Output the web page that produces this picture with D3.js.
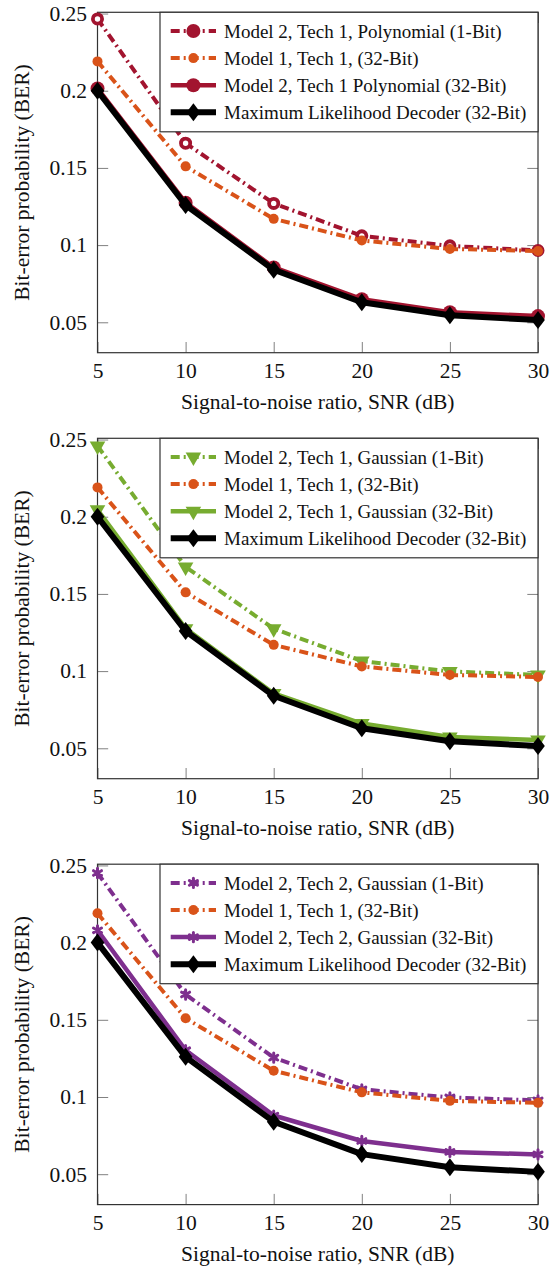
<!DOCTYPE html>
<html>
<head>
<meta charset="utf-8">
<script src="https://cdn.jsdelivr.net/npm/d3@7"></script>
<style>
  body { margin: 0; background: #fff; }
  svg { display: block; }
  svg text { font-family: "Liberation Serif", "Times New Roman", serif; }
</style>
</head>
<body>
<div id="chart"></div>
<script>
// ---- data ----
const snr = [5, 10, 15, 20, 25, 30];
const xTickLabels = ["5", "10", "15", "20", "25", "30"];
const yTickValues = [0.05, 0.1, 0.15, 0.2, 0.25];
const yTickLabels = ["0.05", "0.1", "0.15", "0.2", "0.25"];

const berML = [0.2, 0.126, 0.084, 0.063, 0.0545, 0.0515];
const berModel1 = [0.219, 0.151, 0.117, 0.103, 0.0975, 0.0962];
const berPoly1Bit = [0.2465, 0.166, 0.127, 0.106, 0.0995, 0.0965];
const berPoly32Bit = [0.2015, 0.1275, 0.0855, 0.065, 0.0565, 0.054];
const berGauss1Bit = [0.2458, 0.1675, 0.1275, 0.1065, 0.0998, 0.0975];
const berGauss32Bit = [0.2045, 0.1275, 0.0855, 0.066, 0.0573, 0.0553];
const berTech2Gauss1Bit = [0.2451, 0.1664, 0.1255, 0.105, 0.0997, 0.0978];
const berTech2Gauss32Bit = [0.208, 0.1303, 0.088, 0.0715, 0.0644, 0.0628];

const labelML = "Maximum Likelihood Decoder (32-Bit)";
const labelModel1 = "Model 1, Tech 1, (32-Bit)";
const labelsPanel1 = ["Model 2, Tech 1, Polynomial (1-Bit)", "Model 2, Tech 1 Polynomial (32-Bit)"];
const labelsPanel2 = ["Model 2, Tech 1, Gaussian (1-Bit)", "Model 2, Tech 1, Gaussian (32-Bit)"];
const labelsPanel3 = ["Model 2, Tech 2, Gaussian (1-Bit)", "Model 2, Tech 2, Gaussian (32-Bit)"];

const xTitle = "Signal-to-noise ratio, SNR (dB)";
const yTitle = "Bit-error probability (BER)";

// ---- styling / layout ----
const WIDTH = 551, HEIGHT = 1270;
const PLOT = { left: 97.5, right: 538, height: 340.4 };
const PANEL_TOP = [12.3, 438.3, 864.2];
const Y_DOMAIN = [0.0303, 0.2508];
const FONT = "'Liberation Serif', 'Times New Roman', serif";
const AXIS_FONT_SIZE = 21.5;
const LEGEND_FONT_SIZE = 19;
const TICK = 10.7;
const DASHDOT = "9,4,2,4";

const CRIMSON = "#a2142f";
const ORANGE = "#d95319";
const GREEN = "#77ac30";
const PURPLE = "#7e2f8e";

const shapes = {
  diamond: { draw(c, r) { const w = r * 0.76; c.moveTo(0, -r); c.lineTo(w, 0); c.lineTo(0, r); c.lineTo(-w, 0); c.closePath(); } },
  triangleDown: { draw(c, r) { const s = r * Math.sqrt(3) / 2; c.moveTo(-s, -r / 2); c.lineTo(s, -r / 2); c.lineTo(0, r); c.closePath(); } },
};

const seriesML = { values: berML, label: labelML, color: "#000", dash: null, width: 6, marker: "diamond" };
const seriesM1 = { values: berModel1, label: labelModel1, color: ORANGE, dash: DASHDOT, width: 4, marker: "smallCircle" };

const panels = [
  [
    { values: berPoly1Bit, label: labelsPanel1[0], color: CRIMSON, dash: DASHDOT, width: 4, marker: "ring" },
    seriesM1,
    { values: berPoly32Bit, label: labelsPanel1[1], color: CRIMSON, dash: null, width: 4.5, marker: "circle" },
    seriesML,
  ],
  [
    { values: berGauss1Bit, label: labelsPanel2[0], color: GREEN, dash: DASHDOT, width: 4, marker: "triangle" },
    seriesM1,
    { values: berGauss32Bit, label: labelsPanel2[1], color: GREEN, dash: null, width: 4.5, marker: "triangle" },
    seriesML,
  ],
  [
    { values: berTech2Gauss1Bit, label: labelsPanel3[0], color: PURPLE, dash: DASHDOT, width: 4, marker: "star" },
    seriesM1,
    { values: berTech2Gauss32Bit, label: labelsPanel3[1], color: PURPLE, dash: null, width: 4.5, marker: "star" },
    seriesML,
  ],
];

const drawMarker = (g, kind, color, x, y, inLegend) => {
  let sel;
  if (kind === "ring" && !inLegend) {
    sel = g.append("circle").attr("r", 4.6).attr("fill", "#fff").attr("stroke", color).attr("stroke-width", 3.8);
  } else if (kind === "ring" || kind === "circle") {
    sel = g.append("circle").attr("r", 7).attr("fill", color);
  } else if (kind === "smallCircle") {
    sel = g.append("circle").attr("r", 5).attr("fill", color);
  } else if (kind === "diamond") {
    sel = g.append("path").attr("d", d3.symbol().type(shapes.diamond).size(9)()).attr("fill", color);
  } else if (kind === "triangle") {
    sel = g.append("path").attr("d", d3.symbol().type(shapes.triangleDown).size(9)()).attr("fill", color);
  } else if (kind === "star") {
    sel = g.append("path").attr("d", d3.symbol().type(d3.symbolAsterisk).size(60)())
      .attr("fill", "none").attr("stroke", color).attr("stroke-width", 3).attr("stroke-linecap", "round");
  }
  if (sel.node().tagName === "circle") sel.attr("cx", x).attr("cy", y);
  else sel.attr("transform", `translate(${x},${y})`);
};

const svg = d3.select("#chart").append("svg")
  .attr("width", WIDTH).attr("height", HEIGHT)
  .attr("viewBox", `0 0 ${WIDTH} ${HEIGHT}`);

const x = d3.scaleLinear().domain([5, 30]).range([PLOT.left, PLOT.right]);

const styleAxis = (g) => {
  g.select(".domain").remove();
  g.selectAll(".tick line").attr("stroke", "#808080").attr("stroke-width", 1);
  g.attr("font-family", FONT).attr("font-size", AXIS_FONT_SIZE);
  g.selectAll(".tick text").attr("fill", "#111");
};

panels.forEach((series, p) => {
  const top = PANEL_TOP[p];
  const bottom = top + PLOT.height;
  const y = d3.scaleLinear().domain(Y_DOMAIN).range([bottom, top]);
  const panel = svg.append("g");

  // axes with inward ticks on all four sides
  panel.append("g").attr("transform", `translate(0,${bottom})`)
    .call(d3.axisBottom(x).tickValues(snr).tickSize(-TICK).tickPadding(10.4).tickFormat((d, i) => xTickLabels[i]))
    .call(styleAxis);
  panel.append("g").attr("transform", `translate(0,${top})`)
    .call(d3.axisTop(x).tickValues(snr).tickSize(-TICK).tickFormat(""))
    .call(styleAxis);
  panel.append("g").attr("transform", `translate(${PLOT.left},0)`)
    .call(d3.axisLeft(y).tickValues(yTickValues).tickSize(-TICK).tickPadding(10.5).tickFormat((d, i) => yTickLabels[i]))
    .call(styleAxis);
  panel.append("g").attr("transform", `translate(${PLOT.right},0)`)
    .call(d3.axisRight(y).tickValues(yTickValues).tickSize(-TICK).tickFormat(""))
    .call(styleAxis);

  panel.append("rect")
    .attr("x", PLOT.left).attr("y", top)
    .attr("width", PLOT.right - PLOT.left).attr("height", PLOT.height)
    .attr("fill", "none").attr("stroke", "#333").attr("stroke-width", 1.2);

  // axis titles
  panel.append("text")
    .attr("x", (PLOT.left + PLOT.right) / 2).attr("y", bottom + 56.6)
    .attr("text-anchor", "middle")
    .attr("font-family", FONT).attr("font-size", AXIS_FONT_SIZE).attr("fill", "#111")
    .text(xTitle);
  panel.append("text")
    .attr("transform", "rotate(-90)")
    .attr("x", -(top + PLOT.height / 2)).attr("y", 28.5)
    .attr("text-anchor", "middle")
    .attr("font-family", FONT).attr("font-size", AXIS_FONT_SIZE).attr("fill", "#111")
    .text(yTitle);

  // series
  const line = d3.line().x((d, i) => x(snr[i])).y((d) => y(d));
  series.forEach((s) => {
    const g = panel.append("g");
    g.append("path")
      .attr("d", line(s.values))
      .attr("fill", "none")
      .attr("stroke", s.color)
      .attr("stroke-width", s.width)
      .attr("stroke-linejoin", "round")
      .attr("stroke-dasharray", s.dash);
    s.values.forEach((v, i) => drawMarker(g, s.marker, s.color, x(snr[i]), y(v), false));
  });

  // legend
  const lg = panel.append("g");
  lg.append("rect")
    .attr("x", 160).attr("y", top)
    .attr("width", PLOT.right - 160).attr("height", 119.5)
    .attr("fill", "#fff").attr("stroke", "#333").attr("stroke-width", 1.2);
  series.forEach((s, i) => {
    const ry = top + 18.7 + i * 27.1;
    lg.append("line")
      .attr("x1", 170.7).attr("x2", 216).attr("y1", ry).attr("y2", ry)
      .attr("stroke", s.color).attr("stroke-width", s.width)
      .attr("stroke-dasharray", s.dash);
    drawMarker(lg, s.marker, s.color, 193.4, ry, true);
    lg.append("text")
      .attr("x", 224).attr("y", ry).attr("dy", "0.35em")
      .attr("font-family", FONT).attr("font-size", LEGEND_FONT_SIZE).attr("fill", "#111")
      .text(s.label);
  });
});
</script>
</body>
</html>
